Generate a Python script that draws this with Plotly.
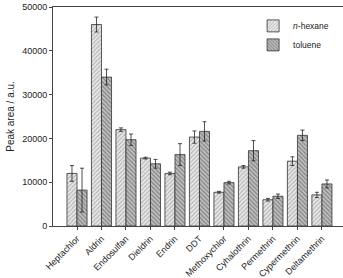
import plotly.graph_objects as go

categories = ["Heptachlor", "Aldrin", "Endosulfan", "Dieldrin", "Endrin", "DDT",
              "Methoxychlor", "Cyhalothrin", "Permethrin", "Cypermethrin", "Deltamethrin"]
hexane = [12000, 46000, 22000, 15500, 12000, 20300, 7700, 13500, 6000, 14800, 7100]
hexane_err = [1800, 1700, 400, 200, 300, 1400, 200, 300, 300, 1000, 600]
toluene = [8200, 34000, 19700, 14200, 16300, 21600, 9900, 17200, 6800, 20700, 9600]
toluene_err = [5000, 1800, 1300, 1000, 2500, 2200, 300, 2300, 500, 1200, 900]
yticks = [0, 10000, 20000, 30000, 40000, 50000]

fig = go.Figure()
fig.add_trace(go.Bar(
    x=categories, y=hexane, name="<i>n</i>-hexane",
    marker=dict(color="#e8e8e8", line=dict(color="#333", width=0.8),
                pattern=dict(shape="/", fgcolor="#777", size=3, solidity=0.35)),
    error_y=dict(type="data", array=hexane_err, color="#222", thickness=0.8, width=2),
))
fig.add_trace(go.Bar(
    x=categories, y=toluene, name="toluene",
    marker=dict(color="#c0c0c0", line=dict(color="#333", width=0.8),
                pattern=dict(shape="\\", fgcolor="#444", size=3, solidity=0.4)),
    error_y=dict(type="data", array=toluene_err, color="#222", thickness=0.8, width=2),
))

fig.update_layout(
    width=343, height=278,
    margin=dict(l=53, r=0, t=7, b=52),
    paper_bgcolor="white", plot_bgcolor="white",
    barmode="group", bargap=0.18, bargroupgap=0.0,
    font=dict(family="Liberation Sans, Arial", size=9, color="#222"),
    showlegend=True,
    legend=dict(x=0.69, y=0.98, xanchor="left", yanchor="top",
                bgcolor="rgba(0,0,0,0)", font=dict(size=8.5, color="#222"),
                tracegroupgap=0),
)
fig.update_xaxes(
    range=[-0.98, 10.86], showline=True, linecolor="#444", linewidth=1,
    mirror=True, ticks="outside", ticklen=3, tickcolor="#444",
    tickangle=-45, tickfont=dict(size=9, color="#222"), showgrid=False,
)
fig.update_yaxes(
    range=[0, 50000], tickvals=yticks, ticktext=[str(v) for v in yticks],
    showline=True, linecolor="#444", linewidth=1,
    mirror=False, ticks="outside", ticklen=3, tickcolor="#444", showgrid=False,
    tickfont=dict(size=9, color="#222"),
    title=dict(text="Peak area / a.u.", font=dict(size=10, color="#222"), standoff=5),
)

fig.write_html("out.html")
